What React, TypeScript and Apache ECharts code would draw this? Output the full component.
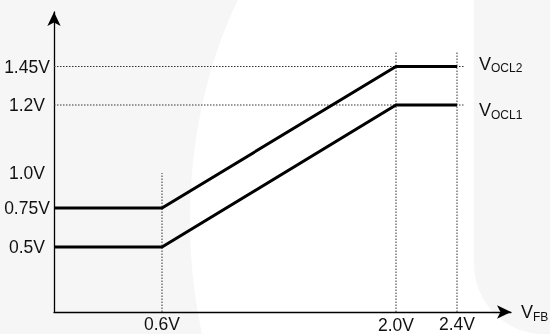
import React, { useEffect, useRef } from "react";
import * as echarts from "echarts";

// ---- data (volts) ----
const vfbPoints = [0, 0.6, 2.0, 2.4];
const voclOne = [0.5, 0.5, 1.2, 1.2];
const voclTwo = [0.75, 0.75, 1.45, 1.45];
const seriesNames = ["OCL1", "OCL2"];
const xTicks = [0.6, 2.0, 2.4];
const xTickLabels = ["0.6V", "2.0V", "2.4V"];
const yTicks = [0.5, 0.75, 1.0, 1.2, 1.45];
const yTickLabels = ["0.5V", "0.75V", "1.0V", "1.2V", "1.45V"];
const hGuideLevels = [1.2, 1.45];
const hGuideEnd = 2.45;
const vGuideX = [0.6, 2.0, 2.4];
const vGuideTop = [1.0, 1.55, 1.55];

// ---- schematic (not-to-scale) axis mapping: volts -> drawing units ----
const X_DOM = [0, 0.6, 2.0, 2.4];
const X_UNITS = [0, 108, 342, 403];
const Y_DOM = [0, 0.5, 0.75, 1.0, 1.2, 1.45];
const Y_UNITS = [0, 65, 104, 139, 207, 245.5];

function piecewise(v: number, dom: number[], rng: number[]) {
  let i = 0;
  while (i < dom.length - 2 && v > dom[i + 1]) i++;
  const t = (v - dom[i]) / (dom[i + 1] - dom[i]);
  return rng[i] + t * (rng[i + 1] - rng[i]);
}
const mx = (v: number) => piecewise(v, X_DOM, X_UNITS);
const my = (v: number) => piecewise(v, Y_DOM, Y_UNITS);

const FONT = "Liberation Sans";
const TXT = "#111";
const FS = 17.5;

const subRich = {
  v: { fontSize: 18, lineHeight: 21, color: TXT, fontFamily: FONT, verticalAlign: "middle" },
  s: { fontSize: 12, lineHeight: 15, color: TXT, fontFamily: FONT, verticalAlign: "bottom" },
};

export default function App() {
  const ref = useRef<HTMLDivElement>(null);
  useEffect(() => {
    if (!ref.current) return;
    const chart = echarts.init(ref.current, undefined, { renderer: "svg" });

    const guide = {
      type: "line",
      symbol: "none",
      silent: true,
      z: 1,
      lineStyle: { color: "#333", width: 1, type: [1.5, 1.5] },
    };

    const series: any[] = [];
    hGuideLevels.forEach((lv) => {
      series.push({ ...guide, data: [[mx(0), my(lv)], [mx(hGuideEnd), my(lv)]] });
    });
    vGuideX.forEach((x, i) => {
      series.push({ ...guide, data: [[mx(x), my(0)], [mx(x), my(vGuideTop[i])]] });
    });
    [voclOne, voclTwo].forEach((vals, k) => {
      series.push({
        type: "line",
        name: seriesNames[k],
        symbol: "none",
        z: 3,
        lineStyle: { color: "#000", width: 3, join: "miter", cap: "butt" },
        data: vfbPoints.map((x, i) => [mx(x), my(vals[i])]),
        endLabel: {
          show: true,
          formatter: `{v|V}{s|${seriesNames[k]}}`,
          distance: 22,
          offset: k === 0 ? [0, 5] : [0, -3],
          rich: subRich,
        },
      });
    });

    const findLabel = (val: number, ticks: number[], labels: string[], f: (v: number) => number) => {
      for (let i = 0; i < ticks.length; i++) if (Math.abs(f(ticks[i]) - val) < 0.01) return labels[i];
      return "";
    };

    chart.setOption({
      animation: false,
      backgroundColor: "transparent",
      graphic: [
        { type: "rect", z: -100, silent: true, shape: { x: 0, y: 0, width: 550, height: 334 }, style: { fill: "#f6f6f6" } },
        { type: "ellipse", z: -99, silent: true, shape: { cx: 480, cy: 220, rx: 290, ry: 400 }, style: { fill: "#ffffff" } },
        { type: "rect", z: -98, silent: true, shape: { x: 474, y: 0, width: 80, height: 334, r: [0, 0, 0, 70] }, style: { fill: "#f6f6f6" } },
      ],
      grid: { left: 54, right: 39, top: 12, bottom: 22, containLabel: false, outerBoundsMode: "none" },
      xAxis: {
        type: "value",
        min: 0,
        max: 457,
        splitLine: { show: false },
        axisTick: { show: false },
        axisLine: {
          show: true,
          symbol: ["none", "arrow"],
          symbolSize: [10, 14],
          lineStyle: { color: "#000", width: 1.3 },
        },
        axisLabel: {
          customValues: xTicks.map(mx),
          margin: 5,
          verticalAlign: "top",
          fontSize: FS,
          lineHeight: 14,
          fontFamily: FONT,
          color: TXT,
          formatter: (val: number) => {
            const l = findLabel(val, xTicks, xTickLabels, mx);
            return l === "2.0V" ? `{low|${l}}` : l;
          },
          rich: { low: { fontSize: FS, lineHeight: 14, fontFamily: FONT, color: TXT, padding: [2, 0, 0, 0] } },
        },
        name: "{v|V}{s|FB}",
        nameLocation: "end",
        nameGap: 10,
        nameTextStyle: { rich: subRich },
      },
      yAxis: {
        type: "value",
        min: 0,
        max: 300,
        splitLine: { show: false },
        axisTick: { show: false },
        axisLine: {
          show: true,
          symbol: ["none", "arrow"],
          symbolSize: [10, 14],
          lineStyle: { color: "#000", width: 1.3 },
        },
        axisLabel: {
          customValues: yTicks.map(my),
          margin: 27,
          align: "center",
          fontSize: FS,
          fontFamily: FONT,
          color: TXT,
          formatter: (val: number) => findLabel(val, yTicks, yTickLabels, my),
        },
      },
      series,
    });
    return () => chart.dispose();
  }, []);
  return <div ref={ref} style={{ position: "fixed", left: 0, top: 0, width: 550, height: 334 }} />;
}
